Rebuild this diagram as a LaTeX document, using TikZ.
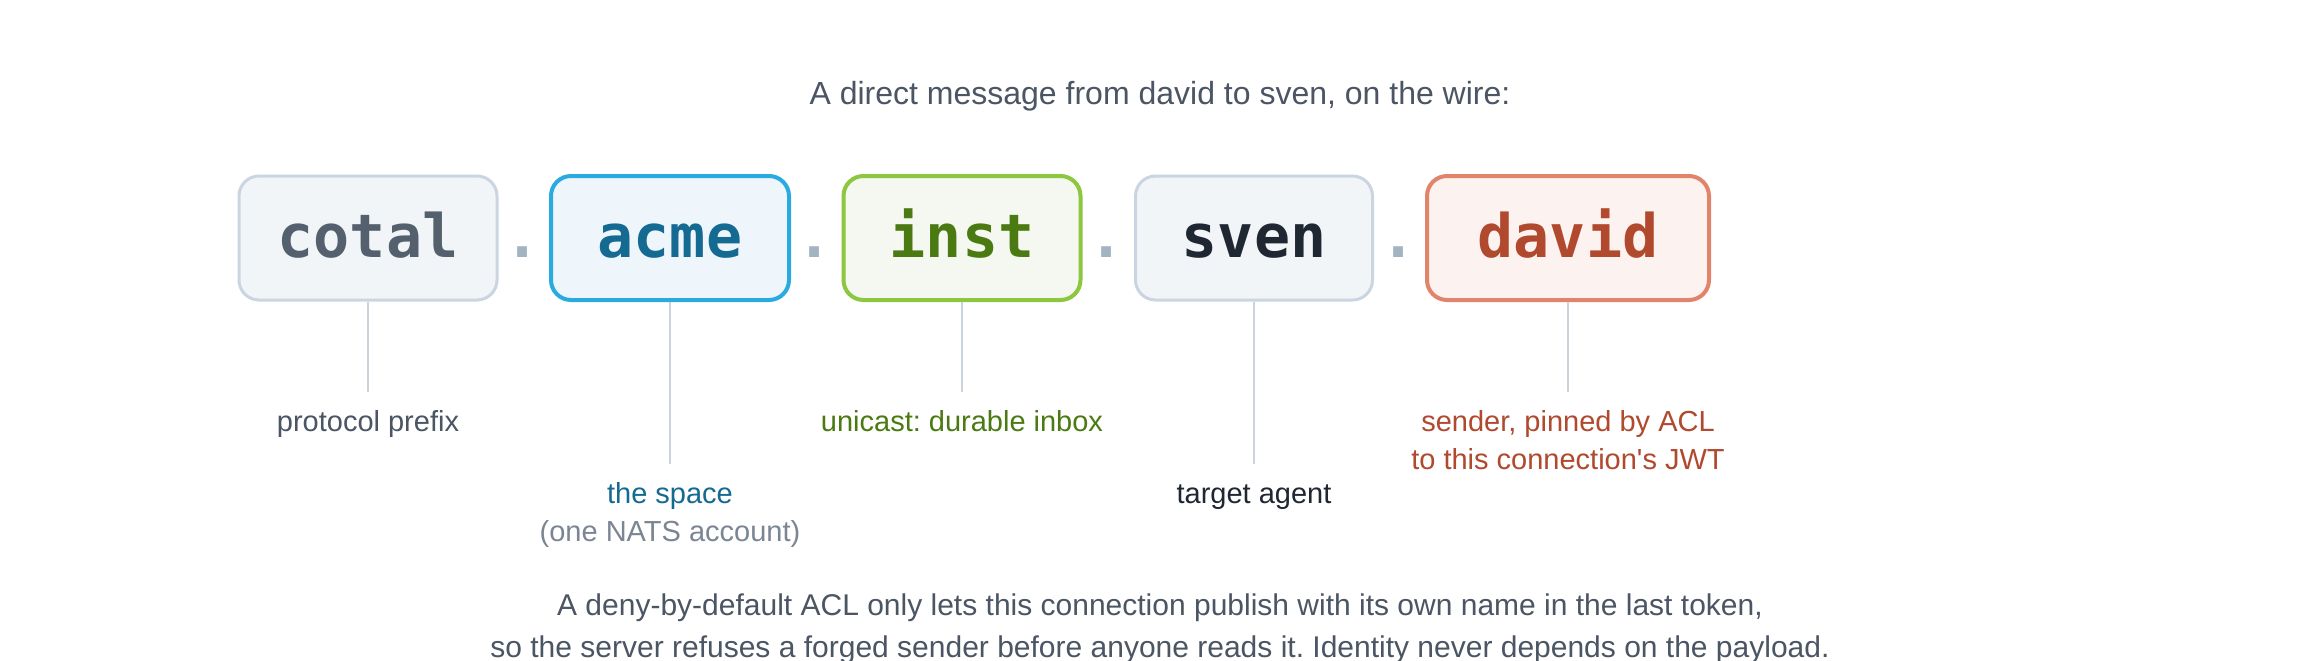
\documentclass[tikz,border=0pt]{standalone}
\usepackage{fontspec}
\setmainfont{Liberation Sans}
\newfontfamily\tokfont{DejaVu Sans Mono}
\frenchspacing

\definecolor{slateline}{HTML}{CBD5E1}
\definecolor{slatefill}{HTML}{F2F5F8}
\definecolor{slatetext}{HTML}{55606E}
\definecolor{inktext}{HTML}{1F2733}
\definecolor{acmeline}{HTML}{29ABE2}
\definecolor{acmefill}{HTML}{EEF6FC}
\definecolor{acmetext}{HTML}{156A92}
\definecolor{instline}{HTML}{8DC63F}
\definecolor{instfill}{HTML}{F5F8F1}
\definecolor{insttext}{HTML}{4B7A12}
\definecolor{davidline}{HTML}{E2836B}
\definecolor{davidfill}{HTML}{FCF2EF}
\definecolor{davidtext}{HTML}{B0492E}
\definecolor{dotgray}{HTML}{A3B3C2}
\definecolor{stemgray}{HTML}{CBD3DC}
\definecolor{notegray}{HTML}{4B5563}
\definecolor{softgray}{HTML}{7B8593}

\begin{document}
\begin{tikzpicture}[
    % GLOBAL CFG
    x=1pt, y=-1pt,
    font=\fontsize{14.5}{19}\selectfont,
    % Styles
    token/.style={% For the subject tokens
        rectangle,
        rounded corners=10pt,
        draw,
        line width=1.5pt,
        minimum height=62pt,
        inner sep=0pt,
        text height=22pt,
        text depth=2.2pt,
        font=\tokfont\bfseries\fontsize{30}{30}\selectfont,
        },
    hot/.style={% Coloured tokens get a thicker border
        line width=2pt,
        },
    dotsep/.style={% For the dots between tokens
        anchor=base,
        inner sep=0pt,
        text=dotgray,
        font=\tokfont\bfseries\fontsize{30}{30}\selectfont,
        },
    lbl/.style={% For the notes under the tokens
        anchor=north,
        align=center,
        inner xsep=2pt,
        inner ysep=9pt,
        },
    stem/.style={% Lines from token to note
        draw=stemgray,
        line width=1.2pt,
        },
    ]

    \useasboundingbox[fill=white] (0,0) rectangle (1160,330);

%Start drawing the thing...
    % Title
    \node [anchor=base, text=notegray, font=\fontsize{16}{19}\selectfont] (title) at (580,52.2) {A direct message from david to sven, on the wire:};

    % Draw the tokens named tbox#
    \node [token, draw=slateline, fill=slatefill, text=slatetext, minimum width=129pt] (tbox1) at (184,119) {cotal};
    \node [token, hot, draw=acmeline, fill=acmefill, text=acmetext, minimum width=119pt] (tbox2) at (335,119) {acme};
    \node [token, hot, draw=instline, fill=instfill, text=insttext, minimum width=118.5pt] (tbox3) at (481,119) {inst};
    \node [token, draw=slateline, fill=slatefill, text=inktext, minimum width=118.5pt] (tbox4) at (627,119) {sven};
    \node [token, hot, draw=davidline, fill=davidfill, text=davidtext, minimum width=141pt] (tbox5) at (784,119) {david};

    % Draw the separators named dot#
    \node [dotsep] (dot1) at (261.5,128.9) {.};
    \node [dotsep] (dot2) at (407.5,128.9) {.};
    \node [dotsep] (dot3) at (553.5,128.9) {.};
    \node [dotsep] (dot4) at (699.5,128.9) {.};

    % Draw the notes named lab#
    \node [lbl, text=notegray] (lab1) at (184,196) {protocol prefix};
    \node [lbl, text=acmetext] (lab2) at (335,232) {the space\\{\color{softgray}(one NATS account)}};
    \node [lbl, text=insttext] (lab3) at (481,196) {unicast: durable inbox};
    \node [lbl, text=inktext, inner ysep=10pt] (lab4) at (627,232) {target agent};
    \node [lbl, text=davidtext] (lab5) at (784,196) {sender, pinned by ACL\\to this connection\textquotesingle s JWT};

% Start connecting all.
    \foreach \i in {1,...,5}
        \draw [stem] (tbox\i) -- (lab\i);

    % Footnote
    \node [anchor=north, align=center, inner sep=0pt, text=notegray, font=\fontsize{15}{21}\selectfont] (foot) at (580,296.5)
        {A deny-by-default ACL only lets this connection publish with its own name in the last token,\\
         so the server refuses a forged sender before anyone reads it. Identity never depends on the payload.};

\end{tikzpicture}
\end{document}
